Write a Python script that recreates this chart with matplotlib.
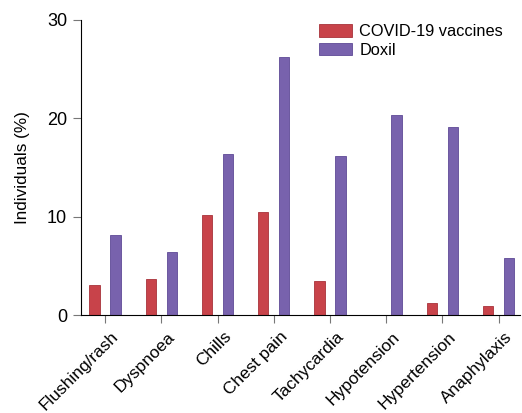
import matplotlib
matplotlib.use("Agg")
import matplotlib.pyplot as plt
import matplotlib.transforms as mtransforms
import numpy as np

categories = ["Flushing/rash", "Dyspnoea", "Chills", "Chest pain", "Tachycardia",
              "Hypotension", "Hypertension", "Anaphylaxis"]
covid = [3.1, 3.7, 10.15, 10.45, 3.45, 0.0, 1.2, 0.95]
doxil = [8.15, 6.45, 16.4, 26.25, 16.15, 20.35, 19.1, 5.8]
series_names = ["COVID-19 vaccines", "Doxil"]
yticks = [0, 10, 20, 30]

plt.rcParams['font.family'] = ['Liberation Sans', 'DejaVu Sans']

fig = plt.figure(figsize=(5.22, 4.13), dpi=100)
ax = fig.add_axes([0.155, 0.237, 0.841, 0.715])

x = np.arange(len(categories))
w = 0.187
ax.bar(x - w, covid, width=w, color="#C8434A", edgecolor="#A8333A", linewidth=0.6, label=series_names[0])
ax.bar(x + w, doxil, width=w, color="#7862AD", edgecolor="#5E4A96", linewidth=0.6, label=series_names[1])

ax.set_xlim(-0.43, 7.38)
ax.set_ylim(0, 30)
ax.set_yticks(yticks)
ax.set_xticks(x)
ax.set_xticklabels(categories, rotation=45, ha="right", rotation_mode="anchor", fontsize=12.4)
ax.tick_params(axis="y", labelsize=13, length=6, color="#777777", pad=4)
ax.tick_params(axis="x", length=6, color="#777777", pad=4)
offset = mtransforms.ScaledTranslation(6 / 100, 0, fig.dpi_scale_trans)
for lab in ax.get_xticklabels():
    lab.set_transform(lab.get_transform() + offset)
ax.spines["top"].set_visible(False)
ax.spines["right"].set_visible(False)
ax.set_ylabel("Individuals (%)", fontsize=12.3, labelpad=12)

ax.legend(loc="upper right", bbox_to_anchor=(0.995, 1.035), frameon=False, fontsize=11.8,
          handlelength=2.0, handleheight=0.8, handletextpad=0.45, labelspacing=0.2)

fig.savefig("out.png", dpi=100)
